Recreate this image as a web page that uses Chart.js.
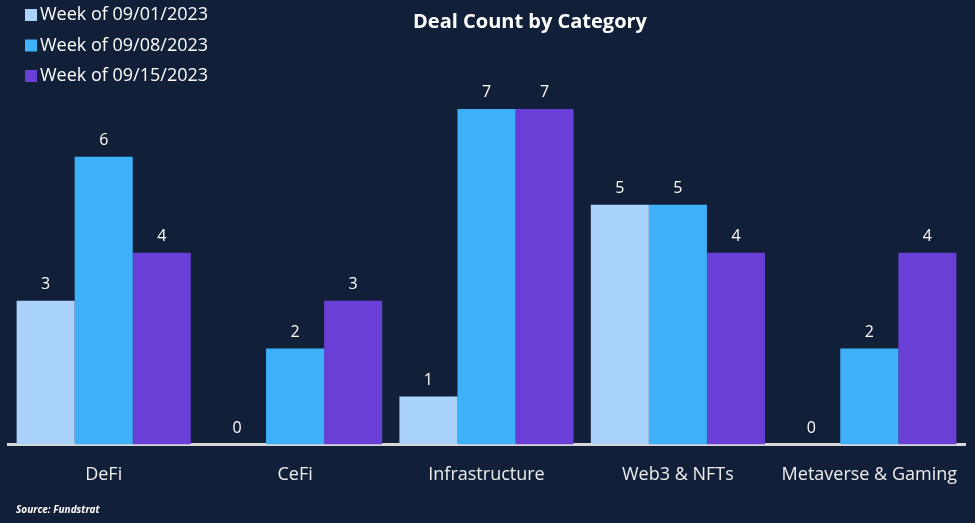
<!DOCTYPE html>
<html>
<head>
<meta charset="utf-8">
<script src="https://cdn.jsdelivr.net/npm/chart.js@4"></script>
<style>
  html, body { margin: 0; padding: 0; background: #111f38; }
  #wrap { position: relative; width: 975px; height: 523px; }
</style>
</head>
<body>
<div id="wrap"><canvas id="myChart" width="975" height="523"></canvas></div>
<script>
// data
var categories = ["DeFi", "CeFi", "Infrastructure", "Web3 & NFTs", "Metaverse & Gaming"];
var weeks = ["Week of 09/01/2023", "Week of 09/08/2023", "Week of 09/15/2023"];
var week1 = [3, 0, 1, 5, 0];
var week2 = [6, 2, 7, 5, 2];
var week3 = [4, 3, 7, 4, 4];
var colors = ["#a9d3fb", "#3fb1fb", "#6a3fd6"];

var font = "'Open Sans', 'Noto Sans', sans-serif";

// value labels above bars
var valueLabels = {
  id: "valueLabels",
  afterDatasetsDraw: function (chart) {
    var ctx = chart.ctx;
    ctx.save();
    ctx.fillStyle = "#ffffff";
    ctx.font = "16px " + font;
    ctx.textAlign = "center";
    ctx.textBaseline = "bottom";
    chart.data.datasets.forEach(function (ds, i) {
      chart.getDatasetMeta(i).data.forEach(function (bar, j) {
        ctx.fillText(ds.data[j], bar.x, bar.y - 8);
      });
    });
    ctx.restore();
  }
};

// title, legend and source note
var extras = {
  id: "extras",
  afterDraw: function (chart) {
    var ctx = chart.ctx;
    ctx.save();
    ctx.fillStyle = "#ffffff";
    ctx.font = "bold 20px " + font;
    ctx.textAlign = "center";
    ctx.textBaseline = "middle";
    ctx.fillText("Deal Count by Category", 530, 22);

    ctx.textAlign = "left";
    ctx.font = "18px " + font;
    chart.data.datasets.forEach(function (ds, i) {
      var y = 15 + i * 30.5;
      ctx.fillStyle = ds.backgroundColor;
      ctx.fillRect(25, y - 6, 12, 12);
      ctx.fillStyle = "#ffffff";
      ctx.fillText(ds.label, 40, y);
    });

    ctx.font = "italic bold 10px " + font;
    ctx.fillStyle = "#ffffff";
    ctx.fillText("Source: Fundstrat", 16, 510);
    ctx.restore();
  }
};

var ctx = document.getElementById("myChart").getContext("2d");
var myChart = new Chart(ctx, {
  type: "bar",
  data: {
    labels: categories,
    datasets: [
      { label: weeks[0], data: week1, backgroundColor: colors[0] },
      { label: weeks[1], data: week2, backgroundColor: colors[1] },
      { label: weeks[2], data: week3, backgroundColor: colors[2] }
    ]
  },
  options: {
    responsive: false,
    animation: false,
    layout: { padding: { top: 61, left: 8, right: 10, bottom: 25 } },
    datasets: {
      bar: { categoryPercentage: 0.91, barPercentage: 1.0 }
    },
    scales: {
      x: {
        grid: { display: false },
        border: { display: true, color: "#d9d9d9", width: 3 },
        ticks: {
          color: "#eeeeee",
          padding: 12,
          font: { size: 18, family: font }
        }
      },
      y: {
        display: false,
        min: 0,
        max: 8
      }
    },
    plugins: {
      legend: { display: false },
      title: { display: false },
      tooltip: { enabled: false }
    }
  },
  plugins: [valueLabels, extras]
});
</script>
</body>
</html>
